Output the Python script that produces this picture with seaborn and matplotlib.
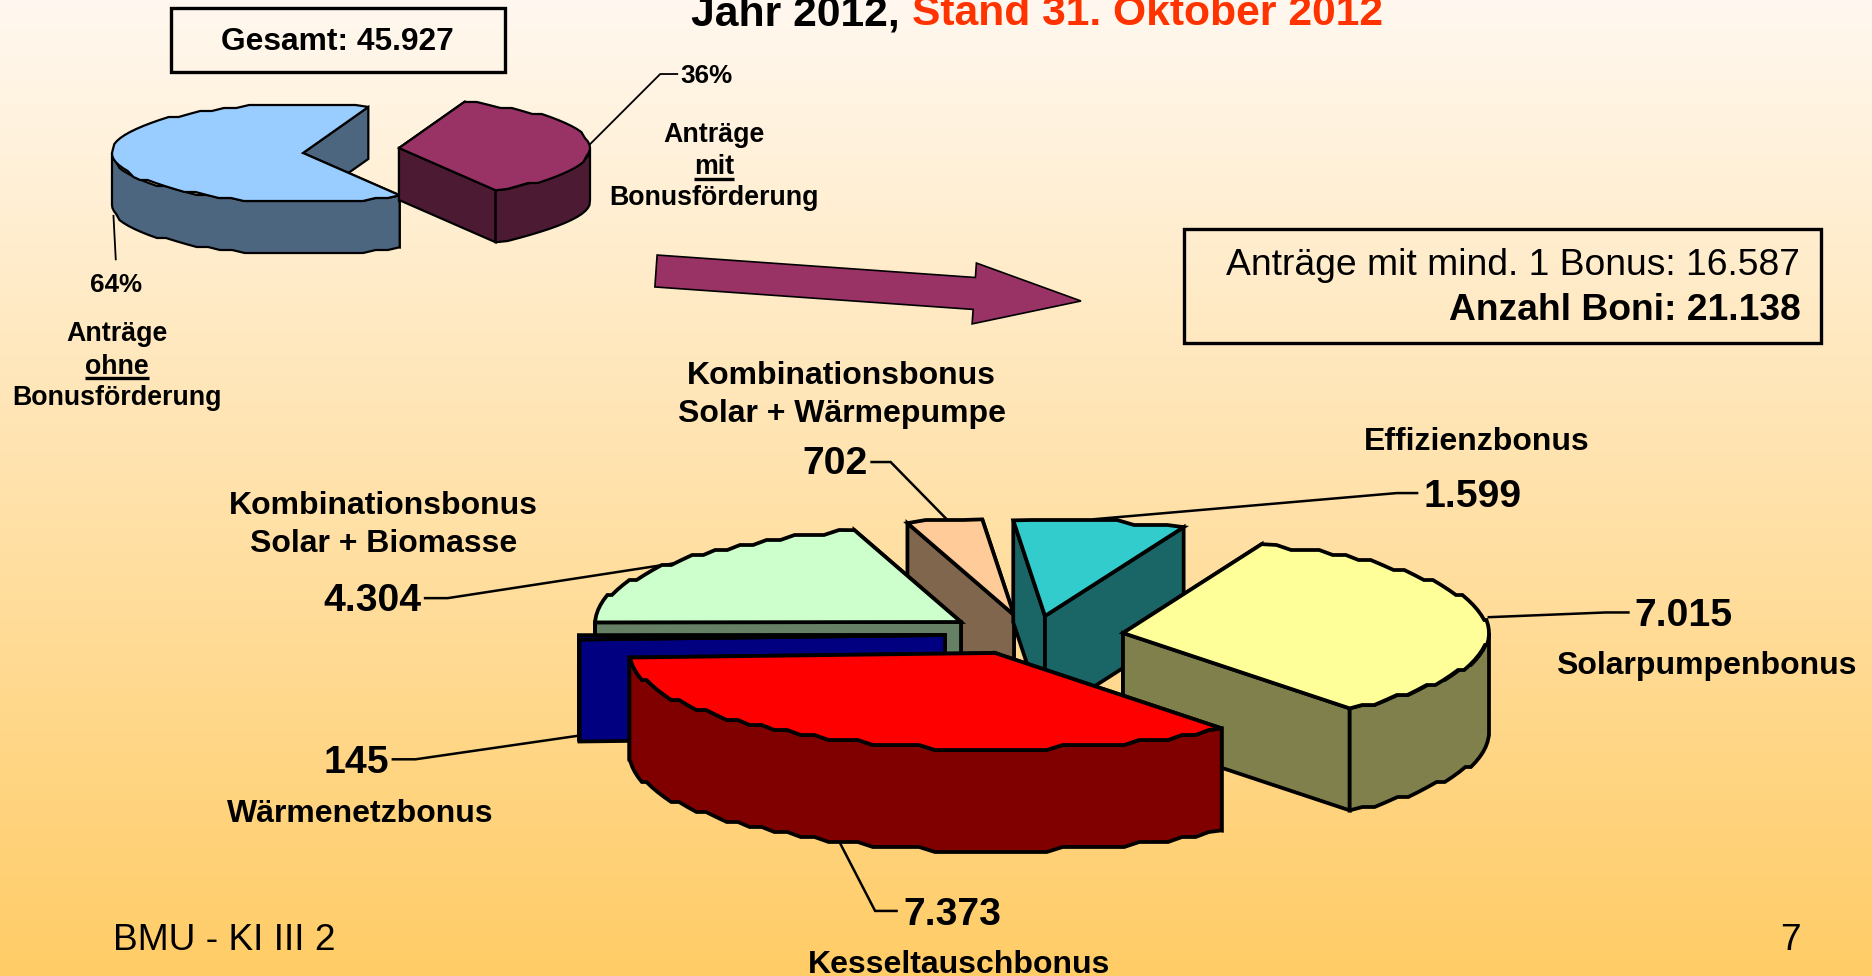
import numpy as np
import matplotlib.pyplot as plt
import seaborn as sns
from matplotlib.colors import to_rgb
from matplotlib.patches import FancyArrow, Rectangle

# Data
antrag_names = ['ohne Bonusförderung', 'mit Bonusförderung']
antrag_share = [64, 36]
antrag_colors = ['#99CCFF', '#993366']

boni_names = ['Kesseltauschbonus', 'Solarpumpenbonus', 'Effizienzbonus',
              'Kombinationsbonus Solar + Wärmepumpe',
              'Kombinationsbonus Solar + Biomasse', 'Wärmenetzbonus']
boni_values = [7373, 7015, 1599, 702, 4304, 145]
boni_colors = ['#FF0000', '#FFFF99', '#33CCCC', '#FFCC99', '#CCFFCC', '#0000FF']

# Layout of the two pies, in pixels
S = 1872 / 1568
small = dict(center=(303, 153), rx=191, ry=49, depth=52, start=70, lw=1.6, ystep=3, da=4)
big = dict(center=(995, 653), rx=366, ry=96, depth=102, start=182.7, lw=2.7, ystep=5, da=2.5)
small_explode = [(0, 0), (96, -5)]
big_explode = [(0, 0), (128, -20), (50, -37), (19, -38), (-34, -31), (-50, -18)]
big_order = [3, 2, 4, 5, 1, 0]


def font(size, bold=True):
    return dict(family='Liberation Sans', fontsize=size, fontweight='bold' if bold else 'normal',
                va='center', color='black', zorder=10)


def arc(cx, cy, rx, ry, a0, a1, p):
    t = np.radians(np.linspace(a0, a1, max(int((a1 - a0) / p['da']), 1) + 1))
    x = cx + rx * np.cos(t)
    y = cy - ry * np.sin(t)
    # stepped outline like the original bitmap
    y[1:-1] = np.round(y[1:-1] / p['ystep']) * p['ystep']
    return x, y


def draw_slice(ax, a0, a1, color, offset, p, z):
    cx, cy = p['center'][0] + offset[0], p['center'][1] + offset[1]
    rx, ry, d, lw = p['rx'], p['ry'], p['depth'], p['lw']
    side = tuple(c * 0.5 for c in to_rgb(color))
    kw = dict(edgecolor='black', linewidth=lw, joinstyle='miter', zorder=z)

    # straight side faces, back one first
    tips = []
    for a in (a0, a1):
        tips.append((cx + rx * np.cos(np.radians(a)), cy - ry * np.sin(np.radians(a))))
    for tx, ty in sorted(tips, key=lambda q: q[1]):
        ax.fill([cx, tx, tx, cx], [cy, ty, ty + d, cy + d], facecolor=side, **kw)

    # rounded side, only the front half of the ellipse shows
    for k in (-1, 0, 1):
        lo, hi = max(a0, 180 + 360 * k), min(a1, 360 + 360 * k)
        if hi > lo:
            x, y = arc(cx, cy, rx, ry, lo, hi, p)
            ax.fill(np.r_[x, x[::-1]], np.r_[y, y[::-1] + d], facecolor=side, **kw)

    x, y = arc(cx, cy, rx, ry, a0, a1, p)
    ax.fill(np.r_[cx, x], np.r_[cy, y], facecolor=color, **kw)


def draw_pie(ax, values, colors, explode, p, order=None):
    edges = p['start'] + np.r_[0, np.cumsum(values)] / np.sum(values) * 360
    order = range(len(values)) if order is None else order
    for z, i in enumerate(order):
        draw_slice(ax, edges[i], edges[i + 1], colors[i], explode[i], p, 3 + z * 0.1)


def leader(ax, pts, lw=1.8):
    xs, ys = zip(*pts)
    ax.plot(np.array(xs) * S, np.array(ys) * S, color='black', lw=lw, zorder=2,
            solid_joinstyle='miter', solid_capstyle='butt')


def label(ax, x, y, s, size, ha='center', bold=True, **extra):
    style = font(size, bold)
    style.update(extra)
    return ax.text(x * S, y * S, s, ha=ha, **style)


def main():
    sns.set_theme(style='white')
    fig = plt.figure(figsize=(18.72, 9.76), dpi=100)
    ax = fig.add_axes([0, 0, 1, 1])

    # slide background
    top, bottom = np.array(to_rgb('#FFF8F0')), np.array(to_rgb('#FFCC66'))
    w = np.linspace(0, 1, 976)[:, None, None]
    ax.imshow(top + (bottom - top) * w, extent=(0, 1872, 976, 0), aspect='auto', zorder=0)

    # leader lines
    leader(ax, [(493, 122), (553, 62), (568, 62)], 1.3)
    leader(ax, [(95, 180), (97, 218)], 1.3)
    leader(ax, [(729, 387), (746, 387), (795, 437)])
    leader(ax, [(915, 435), (1170, 413), (1188, 413)])
    leader(ax, [(1246, 517), (1345, 513), (1365, 513)])
    leader(ax, [(570, 471), (375, 501), (355, 501)])
    leader(ax, [(486, 616), (348, 636), (328, 636)])
    leader(ax, [(703, 705), (733, 763), (752, 763)])

    draw_pie(ax, antrag_share, antrag_colors, small_explode, small)
    draw_pie(ax, boni_values, boni_colors, big_explode, big, big_order)

    # arrow between the pies
    ax.add_patch(FancyArrow(656, 271, 425, 30, width=32, head_width=61, head_length=107,
                            length_includes_head=True, facecolor='#993366',
                            edgecolor='black', linewidth=1.2, zorder=3))

    # boxes
    ax.add_patch(Rectangle((171, 8), 334, 64, facecolor='none', edgecolor='black', linewidth=2.4, zorder=3))
    ax.add_patch(Rectangle((1184, 229), 637, 114, facecolor='none', edgecolor='black', linewidth=2.4, zorder=3))

    # title, cut off by the top of the slide like the original
    label(ax, 579, 12, 'Jahr 2012,', 30.7, ha='left')
    label(ax, 764, 12, 'Stand 31. Oktober 2012', 30.7, ha='left', color='#FF3300')

    label(ax, 283, 35, 'Gesamt: 45.927', 22.9)
    label(ax, 570, 64, '36%', 18.7, ha='left')
    label(ax, 97, 239, '64%', 18.7)
    for x, y, s in [(598, 113, 'Anträge'), (598, 140, 'mit'), (598, 166, 'Bonusförderung'),
                    (98, 280, 'Anträge'), (98, 307, 'ohne'), (98, 333, 'Bonusförderung')]:
        label(ax, x, y, s, 19.3)
    leader(ax, [(581, 150), (615, 150)], 2.4)
    leader(ax, [(71, 317), (125, 317)], 2.4)

    label(ax, 1508, 222, 'Anträge mit mind. 1 Bonus: 16.587', 26.8, ha='right', bold=False)
    label(ax, 1508, 260, 'Anzahl Boni: 21.138', 26.8, ha='right')

    for x, y, s in [(705, 315, 'Kombinationsbonus'), (705, 347, 'Solar + Wärmepumpe'),
                    (1237, 370, 'Effizienzbonus'), (1429, 558, 'Solarpumpenbonus'),
                    (321, 424, 'Kombinationsbonus'), (321, 456, 'Solar + Biomasse'),
                    (302, 682, 'Wärmenetzbonus'), (803, 808, 'Kesseltauschbonus')]:
        label(ax, x, y, s, 23)

    for x, y, s, ha in [(727, 389, '702', 'right'), (1192, 416, '1.599', 'left'),
                        (1369, 516, '7.015', 'left'), (271, 503, '4.304', 'left'),
                        (271, 639, '145', 'left'), (757, 766, '7.373', 'left')]:
        label(ax, x, y, s, 28.2, ha=ha)

    label(ax, 95, 788, 'BMU - KI III 2', 26.7, ha='left', bold=False)
    label(ax, 1500, 788, '7', 26.7, bold=False)

    ax.set_xlim(0, 1872)
    ax.set_ylim(976, 0)
    ax.axis('off')
    fig.savefig('out.png', dpi=100)


if __name__ == "__main__":
    main()
